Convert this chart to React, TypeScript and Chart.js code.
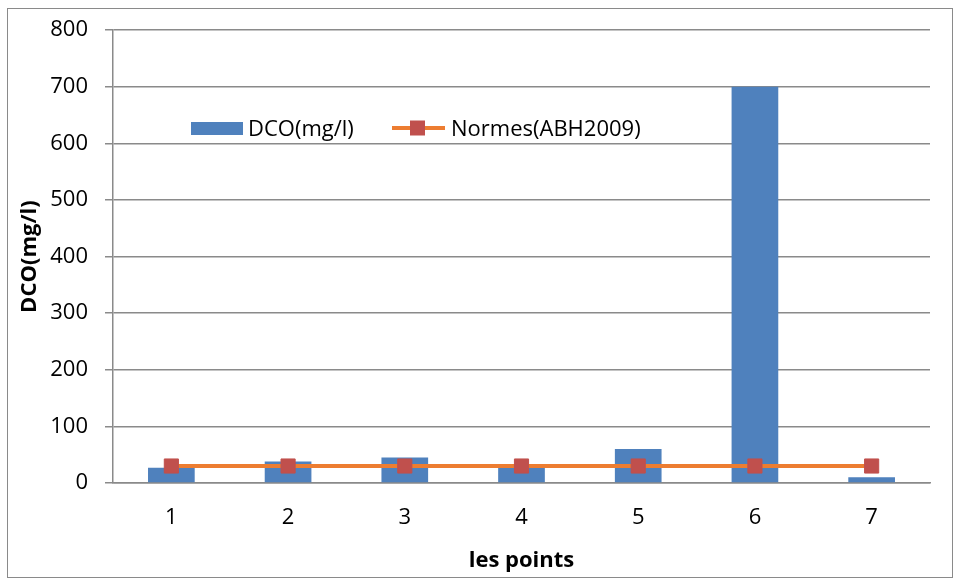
import React, { useEffect, useRef } from "react";
import { Chart, registerables } from "chart.js";

Chart.register(...registerables);

const categories = ["1", "2", "3", "4", "5", "6", "7"];
const dcoValues = [27, 38, 45, 28, 60, 700, 10];
const normValues = [30, 30, 30, 30, 30, 30, 30];
const dcoLabel = "DCO(mg/l)";
const normLabel = "Normes(ABH2009)";
const yTitle = "DCO(mg/l)";
const xTitle = "les points";

const FONT = "'Open Sans', sans-serif";
const GRID = "#8a8a8a";
const BLUE = "#4F81BD";
const ORANGE = "#ED7D31";
const RED = "#C0504D";

const legendPlugin = {
  id: "insideLegend",
  afterDraw(chart: any) {
    const ctx = chart.ctx;
    ctx.save();
    ctx.fillStyle = BLUE;
    ctx.fillRect(191, 122, 52, 13);
    ctx.fillStyle = "#000";
    ctx.font = `22px ${FONT}`;
    ctx.textBaseline = "alphabetic";
    ctx.textAlign = "left";
    ctx.fillText(dcoLabel, 248, 135.5);
    ctx.strokeStyle = ORANGE;
    ctx.lineWidth = 4;
    ctx.beginPath();
    ctx.moveTo(392, 128);
    ctx.lineTo(445, 128);
    ctx.stroke();
    ctx.fillStyle = RED;
    ctx.fillRect(410, 120.5, 15, 15);
    ctx.fillStyle = "#000";
    ctx.fillText(normLabel, 451, 135.5);
    ctx.restore();
  },
};

export default function App() {
  const ref = useRef<HTMLCanvasElement>(null);

  useEffect(() => {
    const canvas = ref.current;
    if (!canvas) return;
    Chart.defaults.font.family = FONT;
    Chart.defaults.color = "#000";
    const chart = new Chart(canvas, {
      type: "bar",
      data: {
        labels: categories,
        datasets: [
          {
            type: "line",
            label: normLabel,
            data: normValues,
            borderColor: ORANGE,
            borderWidth: 4,
            backgroundColor: RED,
            pointStyle: "rect",
            pointRadius: 10,
            pointBorderWidth: 1,
            pointBackgroundColor: RED,
            pointBorderColor: RED,
            tension: 0,
            order: 0,
          } as any,
          {
            type: "bar",
            label: dcoLabel,
            data: dcoValues,
            backgroundColor: BLUE,
            borderWidth: 0,
            barPercentage: 0.4,
            categoryPercentage: 1,
            order: 1,
          },
        ],
      },
      options: {
        responsive: false,
        animation: false,
        layout: { padding: { left: 0, right: 25, top: 25, bottom: 0 } },
        plugins: {
          legend: { display: false },
          tooltip: { enabled: false },
        },
        scales: {
          x: {
            offset: true,
            grid: { display: false, drawTicks: false },
            border: { display: true, color: GRID, width: 1.5 },
            ticks: { font: { size: 22 }, color: "#000", padding: 22 },
            title: {
              display: true,
              text: xTitle,
              font: { size: 22, weight: "bold" },
              color: "#000",
              padding: { top: 0, bottom: 6 },
            },
            afterFit(scale: any) {
              scale.height = 97;
            },
          },
          y: {
            min: 0,
            max: 800,
            ticks: { stepSize: 100, font: { size: 22 }, color: "#000", padding: 17 },
            grid: { color: GRID, lineWidth: 1.5, tickLength: 8, drawTicks: true },
            border: { display: true, color: GRID, width: 1.5 },
            title: {
              display: true,
              text: yTitle,
              font: { size: 22, weight: "bold" },
              color: "#000",
              padding: { top: 17, bottom: 0 },
            },
            afterFit(scale: any) {
              scale.width = 113;
            },
          },
        },
      },
      plugins: [legendPlugin],
    });
    return () => chart.destroy();
  }, []);

  return (
    <>
      <div
        style={{
          position: "absolute",
          left: 7,
          top: 8,
          width: 946,
          height: 570,
          boxSizing: "border-box",
          border: `1px solid ${GRID}`,
        }}
      />
      <canvas
        ref={ref}
        width={955}
        height={580}
        style={{ position: "absolute", left: 0, top: 0, width: 955, height: 580 }}
      />
    </>
  );
}
